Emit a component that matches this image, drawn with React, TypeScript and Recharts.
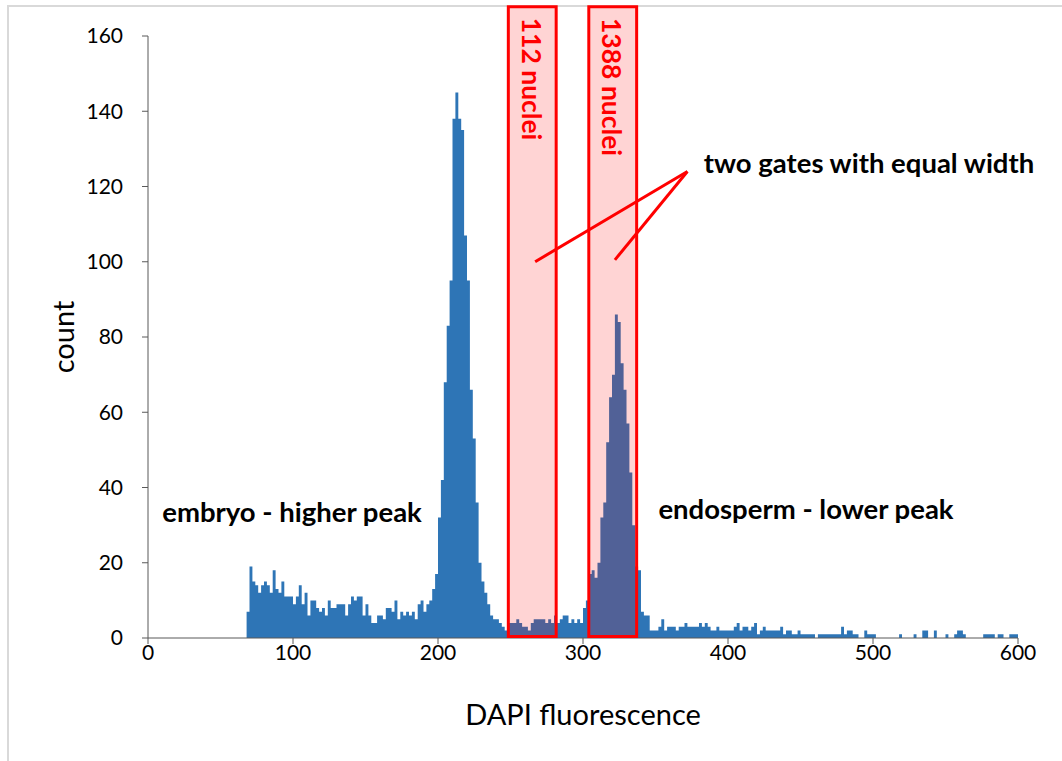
import { ComposedChart, Area, XAxis, YAxis, ReferenceArea, ReferenceLine } from 'recharts'

const BIN_WIDTH = 2

// counts per 2-unit DAPI bin
const embryoStart = 68
const embryoCounts = [
  7, 19, 15, 14, 12, 14, 15, 14, 12, 18, 13, 12, 15, 11, 11, 11, 9, 11, 14, 9, 12, 6, 10, 10, 8, 7, 8, 6, 10, 8, 8, 9,
  9, 9, 6, 9, 11, 10, 11, 11, 6, 9, 6, 4, 4, 6, 6, 5, 8, 8, 7, 10, 5, 7, 6, 7, 6, 7, 5, 9, 10, 7, 9, 10, 13,
  17, 32, 42, 68, 83, 95, 138, 145, 138, 135, 107, 95, 66, 53, 36, 20, 15, 12, 9, 6, 5, 5, 4, 3, 2,
]
const valleyStart = 248
const valleyCounts = [4, 4, 4, 5, 4, 3, 3, 2, 4, 5, 5, 5, 5, 4, 5, 4, 6, 4, 5, 6, 6, 4, 5, 4, 5, 4, 8]
const endospermStart = 302
const endospermCounts = [10, 17, 18, 16, 20, 32, 36, 52, 64, 70, 86, 84, 73, 66, 57, 44, 30, 19, 18]
const tailStart = 340
const tailCounts = [
  7, 6, 6, 2, 2, 2, 3, 5, 2, 3, 3, 3, 2, 3, 3, 4, 3, 3, 3, 3, 4, 3, 4, 3, 2, 2, 3, 2, 2, 2, 2, 2, 3, 4, 2,
  3, 3, 2, 3, 4, 1, 2, 3, 2, 2, 2, 2, 2, 3, 1, 2, 2, 1, 1, 2, 1, 1, 1, 1, 1, 0, 1, 1, 1, 1,
]
const farTailStart = 470
const farTailCounts = [
  1, 1, 1, 1, 3, 1, 2, 2, 1, 1, 0, 0, 2, 1, 1, 1, 0, 0, 0, 0, 0, 0, 0, 0, 1, 0, 0, 0, 0, 1, 0, 0, 2, 2, 0, 0, 2, 0, 0, 0,
  1, 0, 0, 1, 2, 2, 1, 0, 0, 0, 0, 0, 0, 1, 1, 1, 1, 0, 1, 1, 0, 0, 1, 1, 1,
]

const xTicks = [0, 100, 200, 300, 400, 500, 600]
const yTicks = [0, 20, 40, 60, 80, 100, 120, 140, 160]

// gates: [from, to, label]
const gates: [number, number, string][] = [
  [248.5, 281.5, '112 nuclei'],
  [304, 337, '1388 nuclei'],
]

function bins(start: number, counts: number[]) {
  return counts.map((count, i) => ({ x: start + i * BIN_WIDTH, count }))
}

const data = [
  ...bins(embryoStart, embryoCounts),
  ...bins(valleyStart, valleyCounts),
  ...bins(endospermStart, endospermCounts),
  ...bins(tailStart, tailCounts),
  ...bins(farTailStart, farTailCounts),
  { x: 600, count: 0 },
]

const FONT = 'Lato, "Open Sans", sans-serif'
const BLUE = '#2E75B6'
const RED = '#FF0000'

const note: React.CSSProperties = {
  position: 'absolute',
  transform: 'translate(-50%, -50%)',
  whiteSpace: 'nowrap',
  lineHeight: 1,
  fontFamily: FONT,
}

export default function App() {
  return (
    <div style={{ position: 'absolute', left: 0, top: 0, width: 1062, height: 761, background: '#fff', overflow: 'hidden' }}>
      <div style={{ position: 'absolute', left: 7, top: 5, width: 1070, height: 770, border: '2px solid #d9d9d9' }} />
      <ComposedChart
        width={1062}
        height={761}
        data={data}
        margin={{ top: 36, right: 44, bottom: 0, left: 0 }}
        style={{ position: 'absolute', left: 0, top: 0 }}
      >
        <XAxis
          type="number"
          dataKey="x"
          domain={[0, 600]}
          ticks={xTicks}
          height={123}
          tickSize={6}
          tickMargin={1}
          stroke="#595959"
          tick={{ fontSize: 21, fill: '#000', fontFamily: FONT }}
        />
        <YAxis
          type="number"
          domain={[0, 160]}
          ticks={yTicks}
          width={148}
          tickSize={6}
          tickMargin={19}
          stroke="#595959"
          tick={{ fontSize: 21, fill: '#000', fontFamily: FONT }}
        />
        <Area
          type="stepAfter"
          dataKey="count"
          fill={BLUE}
          fillOpacity={1}
          stroke="none"
          isAnimationActive={false}
        />
        {gates.map(([x1, x2]) => (
          <ReferenceArea
            key={x1}
            x1={x1}
            x2={x2}
            y1={0.4}
            y2={167.8}
            ifOverflow="visible"
            fill={RED}
            fillOpacity={0.17}
            stroke={RED}
            strokeWidth={3}
            zIndex={700}
          />
        ))}
        <ReferenceLine
          segment={[{ x: 372, y: 124 }, { x: 267, y: 100 }]}
          stroke={RED}
          strokeWidth={3}
          ifOverflow="visible"
          zIndex={700}
        />
        <ReferenceLine
          segment={[{ x: 372, y: 124 }, { x: 322, y: 100.5 }]}
          stroke={RED}
          strokeWidth={3}
          ifOverflow="visible"
          zIndex={700}
        />
      </ComposedChart>

      <div style={{ ...note, left: 62, top: 337, fontSize: 29, transform: 'translate(-50%, -50%) rotate(-90deg)' }}>count</div>
      <div style={{ ...note, left: 583, top: 713, fontSize: 29 }}>DAPI fluorescence</div>
      <div style={{ ...note, left: 292, top: 512, fontSize: 27.5, fontWeight: 700 }}>embryo - higher peak</div>
      <div style={{ ...note, left: 806, top: 509, fontSize: 27.5, fontWeight: 700 }}>endosperm - lower peak</div>
      <div style={{ ...note, left: 869, top: 163, fontSize: 27.5, fontWeight: 700 }}>two gates with equal width</div>
      <div style={{ ...note, left: 532, top: 79, fontSize: 26.5, fontWeight: 700, color: RED, writingMode: 'vertical-rl' }}>
        {gates[0][2]}
      </div>
      <div style={{ ...note, left: 612, top: 87, fontSize: 26.5, fontWeight: 700, color: RED, writingMode: 'vertical-rl' }}>
        {gates[1][2]}
      </div>
    </div>
  )
}
